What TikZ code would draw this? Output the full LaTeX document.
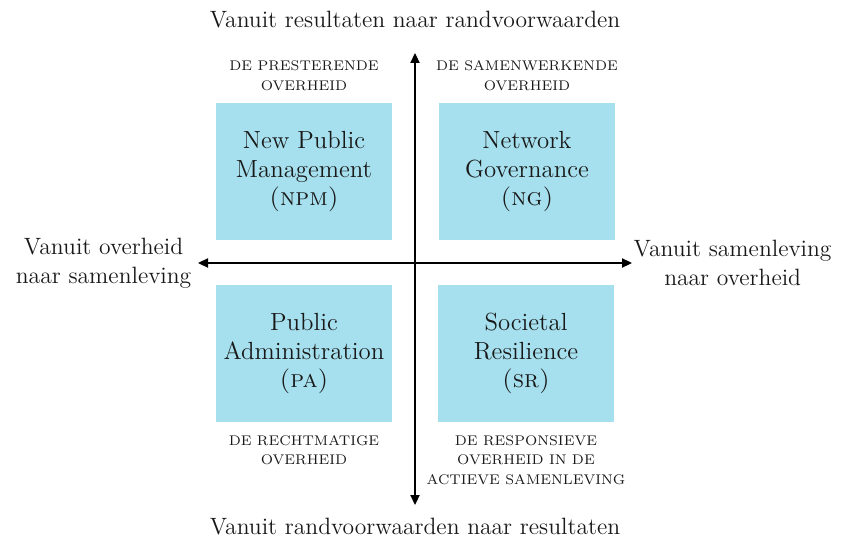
\documentclass[tikz,border=0pt]{standalone}
\usetikzlibrary{arrows.meta, positioning}
\definecolor{boxblue}{RGB}{166,224,238}
\definecolor{inkgrey}{RGB}{25,25,25}
\tikzset{
    quadrant/.style = {fill=boxblue, minimum width=88pt, minimum height=68.5pt, inner sep=0pt, align=center, font=\fontsize{12.4}{14.25}\selectfont}, % the blue squares
    caption/.style = {inner sep=0pt, align=center, font=\fontsize{7}{9.8}\selectfont}, % the small headings above/below a square
    axislabel/.style = {inner sep=0pt, align=center, font=\fontsize{11.8}{14.5}\selectfont}
}

\begin{document}
\begin{tikzpicture}[x=0.5pt, y=-0.5pt, line width=0.7pt, >={Triangle[length=5pt,width=4.6pt]}, text=inkgrey]
        \useasboundingbox (0,0) rectangle (844,540);
        % the four quadrants
        \node[quadrant] (npm) at (304,171.5) {New Public\\Management\\\textsc{(npm)}};
        \node[quadrant] (ng) at (527,171.5) {Network\\Governance\\\textsc{(ng)}};
        \node[quadrant] (pa) at (304,353.5) {Public\\Administration\\\textsc{(pa)}};
        \node[quadrant] (sr) at (526,353.5) {Societal\\Resilience\\\textsc{(sr)}};

        % headings of the quadrants
        \node[caption, above =5.5pt of npm] (npmcap) {DE PRESTERENDE\\OVERHEID};
        \node[caption, above =5.5pt of ng] (ngcap) {DE SAMENWERKENDE\\OVERHEID};
        \node[caption, below =6pt of pa] (pacap) {DE RECHTMATIGE\\OVERHEID};
        \node[caption, below =6pt of sr] (srcap) {DE RESPONSIEVE\\OVERHEID IN DE\\ACTIEVE SAMENLEVING};

        % ends of the axes
        \coordinate (top) at (415,53);
        \coordinate (bottom) at (415,505);
        \coordinate (west) at (198,263);
        \coordinate (east) at (632,263);
        \coordinate (centre) at (415,263);

        \draw[->] (centre) -- (top);
        \draw[->] (centre) -- (bottom);
        \draw[->] (centre) -- (west);
        \draw[->] (centre) -- (east);

        % axis labels
        \node[axislabel] (toplabel) at (415,20) {Vanuit resultaten naar randvoorwaarden};
        \node[axislabel] (bottomlabel) at (415,527) {Vanuit randvoorwaarden naar resultaten};
        \node[axislabel, left =3pt of west] (westlabel) {Vanuit overheid\\naar samenleving};
        \node[axislabel, right =0.5pt of east] (eastlabel) {Vanuit samenleving\\naar overheid};
\end{tikzpicture}
\end{document}
